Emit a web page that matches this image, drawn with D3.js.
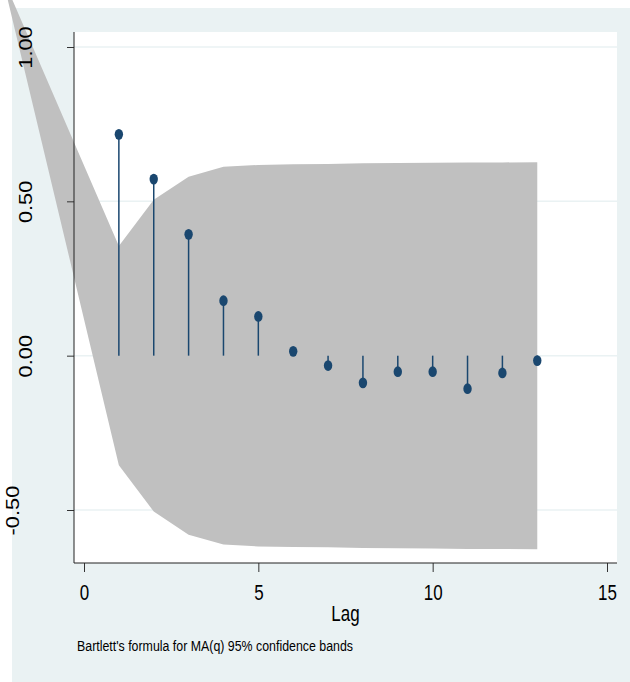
<!DOCTYPE html>
<html>
<head>
<meta charset="utf-8">
<script src="https://cdn.jsdelivr.net/npm/d3@7/dist/d3.min.js"></script>
<style>
  body { margin: 0; background: #fff; }
  svg { display: block; }
  text { font-family: "Liberation Sans", Arial, sans-serif; fill: #000; }
</style>
</head>
<body>
<div id="acf"></div>
<script>
  // autocorrelations by lag
  var lags = [1, 2, 3, 4, 5, 6, 7, 8, 9, 10, 11, 12, 13];
  var acValues = [0.717, 0.572, 0.393, 0.178, 0.127, 0.014, -0.032, -0.088, -0.052, -0.052, -0.107, -0.056, -0.016];

  // Bartlett band; first point is where the band edges meet, off the top left
  var bandLags = [-2.35, 1, 2, 3, 4, 5, 6, 7, 8, 9, 10, 11, 12, 13];
  var bandUpper = [1.23, 0.355, 0.505, 0.580, 0.612, 0.618, 0.620, 0.621, 0.623, 0.624, 0.625, 0.626, 0.626, 0.627];
  var bandLower = [1.23, -0.355, -0.505, -0.580, -0.612, -0.618, -0.620, -0.621, -0.623, -0.624, -0.625, -0.626, -0.626, -0.627];

  var xTicks = [0, 5, 10, 15];
  var yTicks = [-0.5, 0, 0.5, 1];

  var width = 630;
  var height = 682;
  var plot = { "left": 74, "right": 617, "top": 32, "bottom": 563 };
  var navy = "#1a476f";

  var svg = d3.select("#acf")
              .append("svg")
              .attr("width", width)
              .attr("height", height);

  // graph region and plot region
  svg.append("rect")
     .attr("x", 12).attr("y", 8)
     .attr("width", width - 12).attr("height", height - 8)
     .attr("fill", "#eaf2f3");

  svg.append("rect")
     .attr("x", plot.left).attr("y", plot.top)
     .attr("width", plot.right - plot.left).attr("height", plot.bottom - plot.top)
     .attr("fill", "#fff");

  var xScale = d3.scaleLinear()
    .domain([0, 15])
    .range([84, 607]);

  var yScale = d3.scaleLinear()
    .domain([-0.5, 1])
    .range([510, 47]);

  // grid lines
  svg.append("g").selectAll("line")
     .data(yTicks)
     .enter()
     .append("line")
     .attr("x1", plot.left).attr("x2", plot.right)
     .attr("y1", d => yScale(d)).attr("y2", d => yScale(d))
     .attr("stroke", "#eaf2f3")
     .attr("stroke-width", 1.5);

  // confidence band
  var band = bandLags.map(function(l, i) {
    return { lag: l, lo: bandLower[i], hi: bandUpper[i] };
  });

  svg.append("path")
     .datum(band)
     .attr("fill", "#c0c0c0")
     .attr("d", d3.area()
        .x(d => xScale(d.lag))
        .y0(d => yScale(d.lo))
        .y1(d => yScale(d.hi)));

  // axes
  var axisx = d3.axisBottom(xScale)
                .tickValues(xTicks)
                .tickSizeInner(9)
                .tickSizeOuter(0);

  var gx = svg.append("g")
    .attr("transform", "translate(0," + plot.bottom + ")")
    .call(axisx);
  gx.select(".domain").remove();
  gx.selectAll(".tick line").attr("stroke", "#333");
  gx.selectAll(".tick text")
    .attr("y", null).attr("dy", null)
    .attr("font-size", "22px")
    .attr("font-family", null)
    .attr("transform", "translate(0,37) scale(0.77,1)");

  var axisy = d3.axisLeft(yScale)
                .tickValues(yTicks)
                .tickSizeInner(7)
                .tickSizeOuter(0)
                .tickFormat(d => d.toFixed(2));

  var gy = svg.append("g")
    .attr("transform", "translate(" + plot.left + ",0)")
    .call(axisy);
  gy.select(".domain").remove();
  gy.selectAll(".tick line").attr("stroke", "#333");
  gy.selectAll(".tick text")
    .attr("x", null).attr("dy", null)
    .attr("text-anchor", "middle")
    .attr("font-size", "17.5px")
    .attr("font-family", null)
    .attr("transform", d => "translate(" + (d < 0 ? -55 : -42) + ",0) rotate(-90) scale(1.25,1)");

  svg.append("line")
     .attr("x1", plot.left).attr("x2", plot.left)
     .attr("y1", plot.top).attr("y2", plot.bottom)
     .attr("stroke", "#222");
  svg.append("line")
     .attr("x1", plot.left).attr("x2", plot.right)
     .attr("y1", plot.bottom).attr("y2", plot.bottom)
     .attr("stroke", "#222");

  // spikes and markers
  var pts = lags.map(function(l, i) { return { lag: l, ac: acValues[i] }; });

  svg.append("g").selectAll("line")
     .data(pts)
     .enter()
     .append("line")
     .attr("x1", d => xScale(d.lag)).attr("x2", d => xScale(d.lag))
     .attr("y1", yScale(0)).attr("y2", d => yScale(d.ac))
     .attr("stroke", navy)
     .attr("stroke-width", 1.5);

  svg.append("g").selectAll("ellipse")
     .data(pts)
     .enter()
     .append("ellipse")
     .attr("cx", d => xScale(d.lag))
     .attr("cy", d => yScale(d.ac))
     .attr("rx", 4.2)
     .attr("ry", 5.4)
     .attr("fill", navy);

  // titles
  svg.append("text")
     .attr("transform", "translate(" + (plot.left + plot.right) / 2 + ",621) scale(0.77,1)")
     .attr("text-anchor", "middle")
     .attr("font-size", "22px")
     .text("Lag");

  svg.append("text")
     .attr("x", 77)
     .attr("y", 651)
     .attr("font-size", "15.5px")
     .attr("textLength", 276)
     .attr("lengthAdjust", "spacingAndGlyphs")
     .text("Bartlett's formula for MA(q) 95% confidence bands");
</script>
</body>
</html>
